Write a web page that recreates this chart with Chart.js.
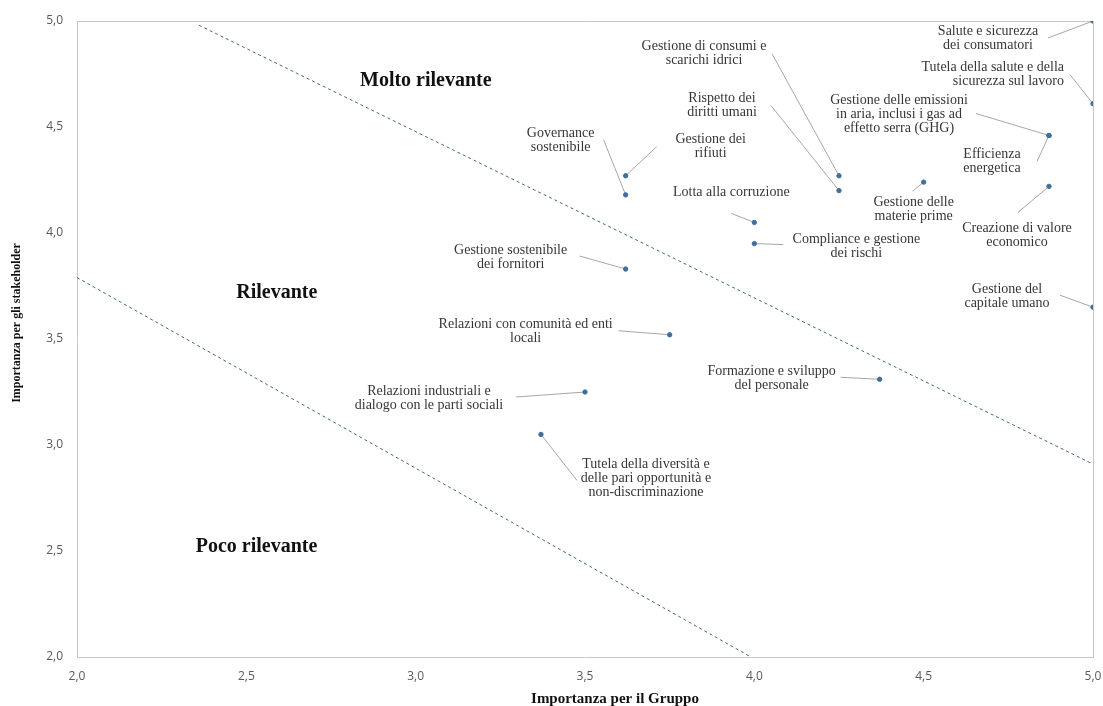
<!DOCTYPE html>
<html>
<head>
<meta charset="utf-8">
<script src="https://cdn.jsdelivr.net/npm/chart.js@4.4.0/dist/chart.umd.min.js"></script>
<style>
  html, body { margin: 0; padding: 0; background: #fff; }
  #wrap { width: 1103px; height: 706px; }
</style>
</head>
<body>
<div id="wrap"><canvas id="matrix" width="1103" height="706"></canvas></div>
<script>
// Temi materiali: importanza per il Gruppo (x) e per gli stakeholder (y)
const topics = [
  ["Salute e sicurezza", "dei consumatori"],
  ["Tutela della salute e della", "sicurezza sul lavoro"],
  ["Gestione delle emissioni", "in aria, inclusi i gas ad", "effetto serra (GHG)"],
  ["Efficienza", "energetica"],
  ["Gestione delle", "materie prime"],
  ["Creazione di valore", "economico"],
  ["Gestione del", "capitale umano"],
  ["Gestione di consumi e", "scarichi idrici"],
  ["Rispetto dei", "diritti umani"],
  ["Gestione dei", "rifiuti"],
  ["Governance", "sostenibile"],
  ["Lotta alla corruzione"],
  ["Compliance e gestione", "dei rischi"],
  ["Gestione sostenibile", "dei fornitori"],
  ["Relazioni con comunità ed enti", "locali"],
  ["Formazione e sviluppo", "del personale"],
  ["Relazioni industriali e", "dialogo con le parti sociali"],
  ["Tutela della diversità e", "delle pari opportunità e", "non-discriminazione"]
];
const groupScore = [5.0, 5.0, 4.87, 4.87, 4.5, 4.87, 5.0, 4.25, 4.25, 3.62, 3.62, 4.0, 4.0, 3.62, 3.75, 4.37, 3.5, 3.37];
const stakeholderScore = [5.0, 4.61, 4.46, 4.46, 4.24, 4.22, 3.65, 4.27, 4.2, 4.27, 4.18, 4.05, 3.95, 3.83, 3.52, 3.31, 3.25, 3.05];

// soglie di rilevanza (linee tratteggiate)
const upperX = [2.36, 5.0];
const upperY = [4.98, 2.91];
const lowerX = [2.0, 3.99];
const lowerY = [3.79, 2.0];

const areaNames = ["Molto rilevante", "Rilevante", "Poco rilevante"];
const areaX = [3.03, 2.59, 2.53];
const areaY = [4.72, 3.72, 2.52];

const tickValues = [2.0, 2.5, 3.0, 3.5, 4.0, 4.5, 5.0];

// posizione etichette rispetto al punto (px): testo [dx, dy, align], attacco linea [lx, ly]
const callouts = [
  [-105, 10, "center", -45, 17],
  [-29, -36, "right", -23, -29],
  [-150, -35, "center", -73, -22],
  [-57, 19, "center", -12, 26],
  [-10, 20, "center", -11, 9],
  [-32, 42, "center", -31, 26],
  [-86, -18, "center", -33, -12],
  [-135, -129, "center", -67, -122],
  [-117, -92, "center", -68, -85],
  [85, -36, "center", 31, -29],
  [-65, -62, "center", -22, -55],
  [-23, -30, "center", -23, -9],
  [102, -4, "center", 29, 1],
  [-115, -19, "center", -46, -13],
  [-144, -10, "center", -51, -4],
  [-108, -8, "center", -39, -2],
  [-156, -1, "center", -69, 5],
  [105, 30, "center", 36, 46]
];

const fmt = v => v.toFixed(1).replace(".", ",");

const matrixLabels = {
  id: "matrixLabels",
  beforeDatasetsDraw(chart) {
    const { ctx, chartArea: a, scales: { x, y } } = chart;
    ctx.save();
    // bordo superiore e destro
    ctx.strokeStyle = "#c8c8c8";
    ctx.lineWidth = 1;
    ctx.beginPath();
    ctx.moveTo(a.left, a.top + 0.5);
    ctx.lineTo(a.right + 0.5, a.top + 0.5);
    ctx.lineTo(a.right + 0.5, a.bottom);
    ctx.stroke();
    // linee di richiamo
    ctx.strokeStyle = "#a6a6a6";
    topics.forEach((t, i) => {
      const px = x.getPixelForValue(groupScore[i]);
      const py = y.getPixelForValue(stakeholderScore[i]);
      const c = callouts[i];
      ctx.beginPath();
      ctx.moveTo(px + c[3], py + c[4]);
      ctx.lineTo(px, py);
      ctx.stroke();
    });
    ctx.restore();
  },
  afterDatasetsDraw(chart) {
    const { ctx, scales: { x, y } } = chart;
    ctx.save();
    ctx.fillStyle = "#363636";
    ctx.font = "14px 'Liberation Serif', 'DejaVu Serif', serif";
    ctx.textBaseline = "middle";
    topics.forEach((t, i) => {
      const px = x.getPixelForValue(groupScore[i]);
      const py = y.getPixelForValue(stakeholderScore[i]);
      const c = callouts[i];
      ctx.textAlign = c[2];
      t.forEach((line, k) => ctx.fillText(line, px + c[0], py + c[1] + k * 14));
    });
    // nomi delle aree
    ctx.fillStyle = "#111";
    ctx.font = "bold 20px 'Liberation Serif', 'DejaVu Serif', serif";
    ctx.textAlign = "center";
    areaNames.forEach((n, i) => ctx.fillText(n, x.getPixelForValue(areaX[i]), y.getPixelForValue(areaY[i])));
    // titoli assi
    ctx.font = "bold 15px 'Liberation Serif', 'DejaVu Serif', serif";
    ctx.fillText("Importanza per il Gruppo", 615, 699);
    ctx.font = "bold 12px 'Liberation Serif', 'DejaVu Serif', serif";
    ctx.translate(17, 323);
    ctx.rotate(-Math.PI / 2);
    ctx.fillText("Importanza per gli stakeholder", 0, 0);
    ctx.restore();
  }
};

const dashStyle = {
  type: "line",
  borderColor: "#3f6a78",
  borderWidth: 1,
  borderDash: [3, 3],
  pointRadius: 0,
  fill: false,
  order: 2
};

new Chart(document.getElementById("matrix"), {
  type: "scatter",
  data: {
    datasets: [
      {
        data: groupScore.map((g, i) => ({ x: g, y: stakeholderScore[i] })),
        backgroundColor: "#3f6f9f",
        borderColor: "#3f6f9f",
        pointRadius: 2.2,
        order: 1
      },
      { ...dashStyle, data: upperX.map((v, i) => ({ x: v, y: upperY[i] })) },
      { ...dashStyle, data: lowerX.map((v, i) => ({ x: v, y: lowerY[i] })) }
    ]
  },
  options: {
    responsive: false,
    animation: false,
    layout: { padding: { top: 21, right: 10, left: 0, bottom: 0 } },
    plugins: { legend: { display: false }, tooltip: { enabled: false } },
    scales: {
      x: {
        type: "linear",
        min: 2, max: 5,
        afterBuildTicks: s => { s.ticks = tickValues.map(v => ({ value: v })); },
        afterFit: s => { s.height = 49; s.paddingLeft = 0; s.paddingRight = 0; },
        grid: { display: false, drawTicks: false },
        border: { color: "#c8c8c8" },
        ticks: { callback: fmt, color: "#595959", padding: 12, font: { family: "'Open Sans', sans-serif", size: 12 }, maxRotation: 0 }
      },
      y: {
        type: "linear",
        min: 2, max: 5,
        afterBuildTicks: s => { s.ticks = tickValues.map(v => ({ value: v })); },
        afterFit: s => { s.width = 77; s.paddingTop = 0; s.paddingBottom = 0; },
        grid: { display: false, drawTicks: false },
        border: { color: "#c8c8c8" },
        ticks: { callback: fmt, color: "#595959", padding: 14, font: { family: "'Open Sans', sans-serif", size: 12 } }
      }
    }
  },
  plugins: [matrixLabels]
});
</script>
</body>
</html>
